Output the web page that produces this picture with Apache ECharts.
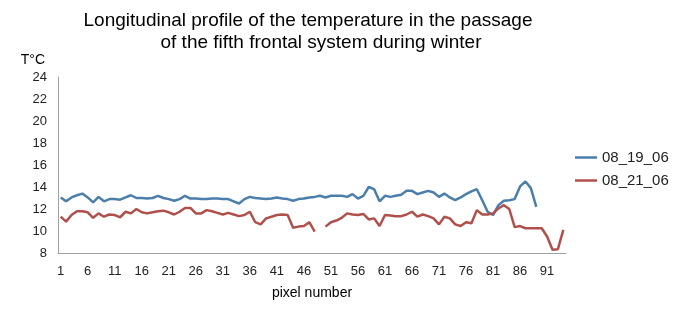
<!DOCTYPE html>
<html>
<head>
<meta charset="utf-8">
<script src="https://cdn.jsdelivr.net/npm/echarts@6/dist/echarts.min.js"></script>
<style>
  html, body { margin: 0; padding: 0; background: #fff; }
  #chart { width: 676px; height: 312px; }
</style>
</head>
<body>
<div id="chart"></div>
<script>
const pixels = [1, 2, 3, 4, 5, 6, 7, 8, 9, 10, 11, 12, 13, 14, 15, 16, 17, 18, 19, 20,
  21, 22, 23, 24, 25, 26, 27, 28, 29, 30, 31, 32, 33, 34, 35, 36, 37, 38, 39, 40,
  41, 42, 43, 44, 45, 46, 47, 48, 49, 50, 51, 52, 53, 54, 55, 56, 57, 58, 59, 60,
  61, 62, 63, 64, 65, 66, 67, 68, 69, 70, 71, 72, 73, 74, 75, 76, 77, 78, 79, 80,
  81, 82, 83, 84, 85, 86, 87, 88, 89, 90, 91, 92, 93, 94];

const temp_08_19_06 = [13.05, 12.7, 13.05, 13.25, 13.4, 13.05, 12.6, 13.1, 12.7, 12.9,
  12.9, 12.85, 13.05, 13.25, 13.0, 13.0, 12.95, 13.0, 13.2, 13.0,
  12.9, 12.75, 12.9, 13.2, 12.95, 12.95, 12.9, 12.9, 12.95, 12.95,
  12.9, 12.9, 12.7, 12.5, 12.9, 13.1, 13.0, 12.95, 12.9, 12.95,
  13.05, 12.95, 12.9, 12.75, 12.9, 12.95, 13.05, 13.1, 13.2, 13.05,
  13.2, 13.2, 13.2, 13.1, 13.35, 12.95, 13.2, 14.0, 13.8, 12.7,
  13.2, 13.1, 13.2, 13.3, 13.65, 13.65, 13.35, 13.5, 13.65, 13.5,
  13.1, 13.4, 13.05, 12.8, 13.05, 13.35, 13.6, 13.8, 12.8, 11.75,
  11.45, 12.35, 12.75, 12.8, 12.9, 14.05, 14.5, 13.9, 12.2, null,
  null, null, null, null];

const temp_08_21_06 = [11.3, 10.85, 11.45, 11.8, 11.8, 11.7, 11.2, 11.6, 11.3, 11.5,
  11.45, 11.25, 11.75, 11.6, 12.0, 11.7, 11.6, 11.7, 11.8, 11.85,
  11.7, 11.5, 11.75, 12.1, 12.1, 11.6, 11.6, 11.9, 11.8, 11.65,
  11.5, 11.65, 11.5, 11.35, 11.45, 11.75, 10.8, 10.6, 11.15, 11.3,
  11.45, 11.5, 11.45, 10.3, 10.4, 10.45, 10.8, 9.95, null, 10.4,
  10.8, 10.95, 11.2, 11.6, 11.5, 11.45, 11.55, 11.05, 11.15, 10.45,
  11.45, 11.4, 11.35, 11.35, 11.5, 11.75, 11.3, 11.5, 11.35, 11.15,
  10.6, 11.3, 11.15, 10.6, 10.45, 10.8, 10.7, 11.9, 11.5, 11.5,
  11.6, 12.05, 12.35, 12.0, 10.35, 10.45, 10.25, 10.25, 10.25, 10.25,
  9.5, 8.3, 8.35, 10.1];

const FONT = '"Liberation Sans", Arial, sans-serif';

const chart = echarts.init(document.getElementById('chart'));

const option = {
  animation: false,
  textStyle: { fontFamily: FONT },
  graphic: [
    {
      type: 'text', x: 308, y: 21,
      style: {
        text: 'Longitudinal profile of the temperature in the passage',
        font: '19px ' + FONT, fill: '#000', textAlign: 'center', textVerticalAlign: 'middle'
      }
    },
    {
      type: 'text', x: 321, y: 43,
      style: {
        text: 'of the fifth frontal system during winter',
        font: '19px ' + FONT, fill: '#000', textAlign: 'center', textVerticalAlign: 'middle'
      }
    }
  ],
  legend: {
    orient: 'vertical',
    left: 575,
    top: 150,
    padding: 0,
    icon: 'rect',
    itemWidth: 22,
    itemHeight: 2.5,
    itemGap: 8,
    textStyle: { fontSize: 15, color: '#222', fontFamily: FONT }
  },
  grid: { left: 58, right: 110, top: 77, bottom: 59 },
  xAxis: {
    type: 'category',
    data: pixels,
    boundaryGap: true,
    name: 'pixel number',
    nameLocation: 'middle',
    nameGap: 33,
    nameTextStyle: { fontSize: 14, color: '#000' },
    axisLine: { lineStyle: { color: '#a0a0a0', width: 1 } },
    axisTick: { show: false },
    axisLabel: { interval: 4, fontSize: 13, color: '#222', margin: 12 },
    splitLine: { show: false }
  },
  yAxis: {
    type: 'value',
    min: 8,
    max: 24,
    interval: 2,
    name: 'T°C',
    nameLocation: 'end',
    nameGap: 10,
    nameTextStyle: { fontSize: 14, color: '#000', align: 'right', padding: [0, 13, 0, 0] },
    axisLine: { show: true, lineStyle: { color: '#a0a0a0', width: 1 } },
    axisTick: { show: false },
    axisLabel: { fontSize: 13, color: '#222', margin: 11 },
    splitLine: { show: false }
  },
  series: [
    {
      name: '08_19_06',
      type: 'line',
      data: temp_08_19_06,
      symbol: 'none',
      color: '#4a7eab',
      lineStyle: { width: 2.5, color: '#4a7eab' }
    },
    {
      name: '08_21_06',
      type: 'line',
      data: temp_08_21_06,
      symbol: 'none',
      color: '#b0504c',
      lineStyle: { width: 2.5, color: '#b0504c' }
    }
  ]
};

chart.setOption(option);
</script>
</body>
</html>
